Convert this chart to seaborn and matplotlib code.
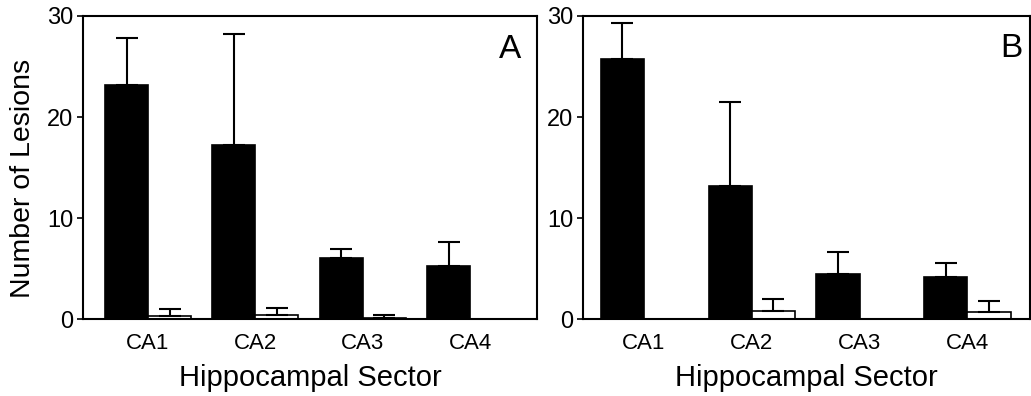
import numpy as np
import pandas as pd
import matplotlib
matplotlib.use("Agg")
import matplotlib.pyplot as plt
import seaborn as sns

sectors = ["CA1", "CA2", "CA3", "CA4"]
groups = ["Black", "White"]

a_black = [23.2, 17.2, 6.0, 5.2]
a_black_err = [4.6, 11.0, 0.9, 2.45]
a_white = [0.3, 0.43, 0.13, 0.0]
a_white_err = [0.66, 0.67, 0.3, 0.0]

b_black = [25.7, 13.2, 4.46, 4.2]
b_black_err = [3.6, 8.25, 2.14, 1.3]
b_white = [0.0, 0.83, 0.0, 0.73]
b_white_err = [0.0, 1.12, 0.0, 1.07]

panel_labels = ["A", "B"]
yticks = [0, 10, 20, 30]

sns.set_theme(style="white")
plt.rcParams["font.family"] = ["Liberation Sans", "DejaVu Sans"]
plt.rcParams["text.color"] = "black"
plt.rcParams["axes.labelcolor"] = "black"
plt.rcParams["xtick.color"] = "black"
plt.rcParams["ytick.color"] = "black"

fig = plt.figure(figsize=(10.31, 3.96), dpi=100)
axA = fig.add_axes([0.0805, 0.1944, 0.4404, 0.7652])
axB = fig.add_axes([0.5655, 0.1944, 0.4335, 0.7652])

panels = [
    (axA, a_black, a_black_err, a_white, a_white_err, (-0.605, 3.62), 0.94, 0.888),
    (axB, b_black, b_black_err, b_white, b_white_err, (-0.565, 3.58), 0.959, 0.894),
]

for i, (ax, bm, be, wm, we, xl, lx, ly) in enumerate(panels):
    df = pd.DataFrame({
        "Sector": sectors * 2,
        "Group": [groups[0]] * 4 + [groups[1]] * 4,
        "Lesions": bm + wm,
        "Err": be + we,
    })
    sns.barplot(data=df, x="Sector", y="Lesions", hue="Group", order=sectors,
                hue_order=groups, palette=["black", "white"], edgecolor="black",
                linewidth=1.2, width=0.8, errorbar=None, legend=False, ax=ax)
    patches = [p for p in ax.patches][:8]
    errs = be + we
    means = bm + wm
    for p, m, e in zip(patches, means, errs):
        if e <= 0:
            continue
        xc = p.get_x() + p.get_width() / 2
        ax.errorbar([xc], [m], yerr=[[0], [e]], fmt="none", ecolor="black",
                    elinewidth=1.5, capsize=8, capthick=1.5, zorder=1)
    ax.set_xlim(*xl)
    ax.set_ylim(0, 30)
    ax.set_yticks(yticks)
    ax.set_xlabel("Hippocampal Sector", fontsize=21, labelpad=7)
    ax.set_ylabel("Number of Lesions" if i == 0 else "", fontsize=20.5)
    if i == 0:
        ax.yaxis.set_label_coords(-0.1035, 0.465)
    ax.tick_params(axis="y", labelsize=17, direction="out", length=4, width=1.2, left=True, pad=3)
    ax.tick_params(axis="x", labelsize=16, length=0, pad=10)
    for s in ax.spines.values():
        s.set_visible(True)
        s.set_color("black")
        s.set_linewidth(1.5)
    ax.text(lx, ly, panel_labels[i], transform=ax.transAxes, fontsize=24,
            ha="center", va="center")

fig.savefig("out.png", dpi=100)
